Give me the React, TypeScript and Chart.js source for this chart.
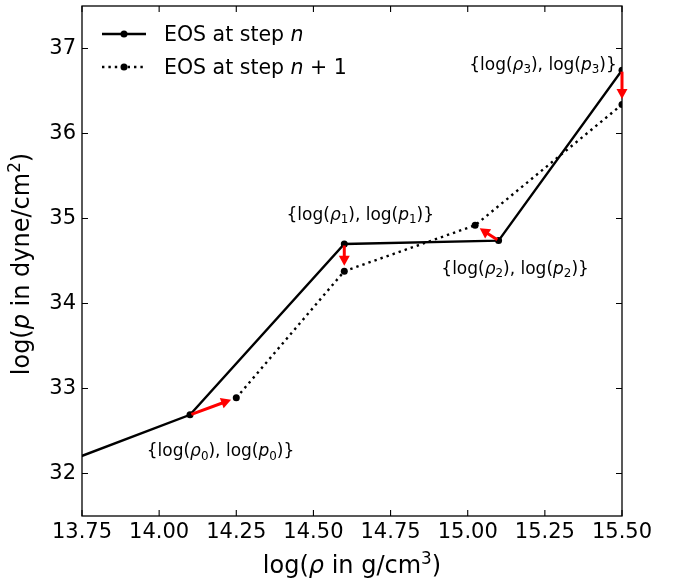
import { useEffect, useRef } from "react";
import { Chart, registerables } from "chart.js";

Chart.register(...registerables);

const FONT = "DejaVu Sans";

// EOS at step n: log(rho) [g/cm^3] and log(p) [dyne/cm^2]
const rhoStepN = [13.6, 14.1, 14.6, 15.1, 15.5];
const pStepN = [32.0, 32.69, 34.7, 34.74, 36.745];

// EOS at step n+1
const rhoStepN1 = [14.25, 14.6, 15.024, 15.5];
const pStepN1 = [32.89, 34.38, 34.92, 36.34];

// node subscripts for the {log(rho_i), log(p_i)} labels
const nodeIds = ["0", "1", "2", "3"];

// axis ranges and ticks
const xRange = [13.75, 15.5];
const yRange = [31.5, 37.5];
const xTicks = [13.75, 14.0, 14.25, 14.5, 14.75, 15.0, 15.25, 15.5];
const yTicks = [32, 33, 34, 35, 36, 37];

// label placement relative to each step-n node, in pixels
const labelOffsets: [number, number][] = [
  [30.5, 36],
  [16, -30],
  [16.5, 27.5],
  [-79, -6],
];

type Run = { t: string; it?: boolean; sub?: boolean; sup?: boolean };

function runFont(r: Run, size: number) {
  const s = r.sub || r.sup ? size * 0.7 : size;
  return `${r.it ? "italic " : ""}${s}px "${FONT}"`;
}

function runsWidth(ctx: CanvasRenderingContext2D, runs: Run[], size: number) {
  let w = 0;
  for (const r of runs) {
    ctx.font = runFont(r, size);
    w += ctx.measureText(r.t).width;
  }
  return w;
}

function drawRuns(
  ctx: CanvasRenderingContext2D,
  runs: Run[],
  x: number,
  baseline: number,
  size: number,
  align: "left" | "center"
) {
  let cx = align === "center" ? x - runsWidth(ctx, runs, size) / 2 : x;
  ctx.textAlign = "left";
  ctx.textBaseline = "alphabetic";
  for (const r of runs) {
    ctx.font = runFont(r, size);
    const dy = r.sub ? size * 0.2 : r.sup ? -size * 0.38 : 0;
    ctx.fillText(r.t, cx, baseline + dy);
    cx += ctx.measureText(r.t).width;
  }
}

function nodeLabel(id: string): Run[] {
  return [
    { t: "{log(" },
    { t: "ρ", it: true },
    { t: id, sub: true },
    { t: "), log(" },
    { t: "p", it: true },
    { t: id, sub: true },
    { t: ")}" },
  ];
}

function drawArrow(
  ctx: CanvasRenderingContext2D,
  x0: number,
  y0: number,
  x1: number,
  y1: number
) {
  const dx = x1 - x0;
  const dy = y1 - y0;
  const len = Math.hypot(dx, dy);
  const ux = dx / len;
  const uy = dy / len;
  const sx = x0 + ux * 1.5;
  const sy = y0 + uy * 1.5;
  const tx = x1 - ux * 5.5;
  const ty = y1 - uy * 5.5;
  const headLen = 10;
  const halfW = 5.5;
  const bx = tx - ux * headLen;
  const by = ty - uy * headLen;
  ctx.strokeStyle = "#ff0000";
  ctx.fillStyle = "#ff0000";
  ctx.lineWidth = 3;
  ctx.lineCap = "butt";
  ctx.setLineDash([]);
  ctx.beginPath();
  ctx.moveTo(sx, sy);
  ctx.lineTo(bx + ux * 2, by + uy * 2);
  ctx.stroke();
  ctx.beginPath();
  ctx.moveTo(tx, ty);
  ctx.lineTo(bx - uy * halfW, by + ux * halfW);
  ctx.lineTo(bx + uy * halfW, by - ux * halfW);
  ctx.closePath();
  ctx.fill();
}

const decorPlugin = {
  id: "eosDecor",
  afterDatasetsDraw(chart: any) {
    const { ctx, chartArea: a } = chart;
    const xs = chart.scales.x;
    const ys = chart.scales.y;
    ctx.save();

    // frame and inward ticks on all four sides
    ctx.strokeStyle = "#000";
    ctx.lineWidth = 1.3;
    ctx.setLineDash([]);
    ctx.strokeRect(a.left, a.top, a.right - a.left, a.bottom - a.top);
    ctx.lineWidth = 1.1;
    ctx.beginPath();
    for (const v of xTicks) {
      const px = xs.getPixelForValue(v);
      ctx.moveTo(px, a.bottom);
      ctx.lineTo(px, a.bottom - 6);
      ctx.moveTo(px, a.top);
      ctx.lineTo(px, a.top + 6);
    }
    for (const v of yTicks) {
      const py = ys.getPixelForValue(v);
      ctx.moveTo(a.left, py);
      ctx.lineTo(a.left + 6, py);
      ctx.moveTo(a.right, py);
      ctx.lineTo(a.right - 6, py);
    }
    ctx.stroke();

    // red arrows from each step-n node to its step-n+1 node
    for (let k = 0; k < rhoStepN1.length; k++) {
      const x0 = xs.getPixelForValue(rhoStepN[k + 1]);
      const y0 = ys.getPixelForValue(pStepN[k + 1]);
      const x1 = xs.getPixelForValue(rhoStepN1[k]);
      const y1 = ys.getPixelForValue(pStepN1[k]);
      drawArrow(ctx, x0, y0, x1, y1);
    }

    // node labels
    ctx.fillStyle = "#000";
    nodeIds.forEach((id, k) => {
      const nx = xs.getPixelForValue(rhoStepN[k + 1]);
      const ny = ys.getPixelForValue(pStepN[k + 1]);
      const [ox, oy] = labelOffsets[k];
      drawRuns(ctx, nodeLabel(id), nx + ox, ny + oy + 5.5, 17, "center");
    });

    // legend
    const legendRows = [
      { y: 34, dash: [] as number[], runs: [{ t: "EOS at step " }, { t: "n", it: true }] as Run[] },
      {
        y: 67,
        dash: [2.4, 4],
        runs: [{ t: "EOS at step " }, { t: "n", it: true }, { t: " + 1" }] as Run[],
      },
    ];
    for (const row of legendRows) {
      ctx.strokeStyle = "#000";
      ctx.lineWidth = 2.4;
      ctx.lineCap = "butt";
      ctx.setLineDash(row.dash);
      ctx.beginPath();
      ctx.moveTo(102, row.y);
      ctx.lineTo(146, row.y);
      ctx.stroke();
      ctx.setLineDash([]);
      ctx.fillStyle = "#000";
      ctx.beginPath();
      ctx.arc(124, row.y, 3.5, 0, Math.PI * 2);
      ctx.fill();
      drawRuns(ctx, row.runs, 164, row.y + 7.4, 20.5, "left");
    }

    // axis titles
    const cx = (a.left + a.right) / 2;
    drawRuns(
      ctx,
      [{ t: "log(" }, { t: "ρ", it: true }, { t: " in g/cm" }, { t: "3", sup: true }, { t: ")" }],
      cx,
      573,
      24,
      "center"
    );
    ctx.save();
    ctx.translate(29, (a.top + a.bottom) / 2 + 3);
    ctx.rotate(-Math.PI / 2);
    drawRuns(
      ctx,
      [{ t: "log(" }, { t: "p", it: true }, { t: " in dyne/cm" }, { t: "2", sup: true }, { t: ")" }],
      0,
      0,
      24,
      "center"
    );
    ctx.restore();

    ctx.restore();
  },
};

export default function App() {
  const canvasRef = useRef<HTMLCanvasElement | null>(null);

  useEffect(() => {
    const canvas = canvasRef.current;
    if (!canvas) return;
    const chart = new Chart(canvas, {
      type: "line",
      data: {
        datasets: [
          {
            label: "EOS at step n",
            data: rhoStepN.map((r, i) => ({ x: r, y: pStepN[i] })),
            borderColor: "#000",
            backgroundColor: "#000",
            borderWidth: 2.4,
            pointRadius: 3.5,
            pointBorderWidth: 0,
            pointBackgroundColor: "#000",
            tension: 0,
            clip: 0,
          },
          {
            label: "EOS at step n+1",
            data: rhoStepN1.map((r, i) => ({ x: r, y: pStepN1[i] })),
            borderColor: "#000",
            backgroundColor: "#000",
            borderWidth: 2.4,
            borderDash: [2.4, 4],
            borderCapStyle: "butt",
            pointRadius: 3.5,
            pointBorderWidth: 0,
            pointBackgroundColor: "#000",
            tension: 0,
            clip: 0,
          },
        ],
      },
      options: {
        animation: false,
        responsive: false,
        devicePixelRatio: 1,
        layout: { padding: { top: 6, right: 59, left: 0, bottom: 0 } },
        plugins: {
          legend: { display: false },
          tooltip: { enabled: false },
        },
        scales: {
          x: {
            type: "linear",
            min: xRange[0],
            max: xRange[1],
            afterBuildTicks: (scale: any) => {
              scale.ticks = xTicks.map((v) => ({ value: v }));
            },
            afterFit: (scale: any) => {
              scale.height = 65;
              scale.paddingLeft = 0;
              scale.paddingRight = 0;
            },
            grid: { display: false, drawTicks: false },
            border: { display: false },
            ticks: {
              autoSkip: false,
              maxRotation: 0,
              padding: 4,
              color: "#000",
              font: { family: FONT, size: 21 },
              callback: (v: any) => Number(v).toFixed(2),
            },
          },
          y: {
            type: "linear",
            min: yRange[0],
            max: yRange[1],
            afterBuildTicks: (scale: any) => {
              scale.ticks = yTicks.map((v) => ({ value: v }));
            },
            afterFit: (scale: any) => {
              scale.width = 82;
              scale.paddingTop = 0;
              scale.paddingBottom = 0;
            },
            grid: { display: false, drawTicks: false },
            border: { display: false },
            ticks: {
              padding: 6,
              color: "#000",
              font: { family: FONT, size: 21 },
              callback: (v: any) => String(v),
            },
          },
        },
      },
      plugins: [decorPlugin],
    });
    return () => chart.destroy();
  }, []);

  return (
    <div
      style={{
        position: "fixed",
        left: 0,
        top: 0,
        width: 681,
        height: 581,
        background: "#fff",
      }}
    >
      <canvas ref={canvasRef} width={681} height={581} style={{ display: "block" }} />
    </div>
  );
}
